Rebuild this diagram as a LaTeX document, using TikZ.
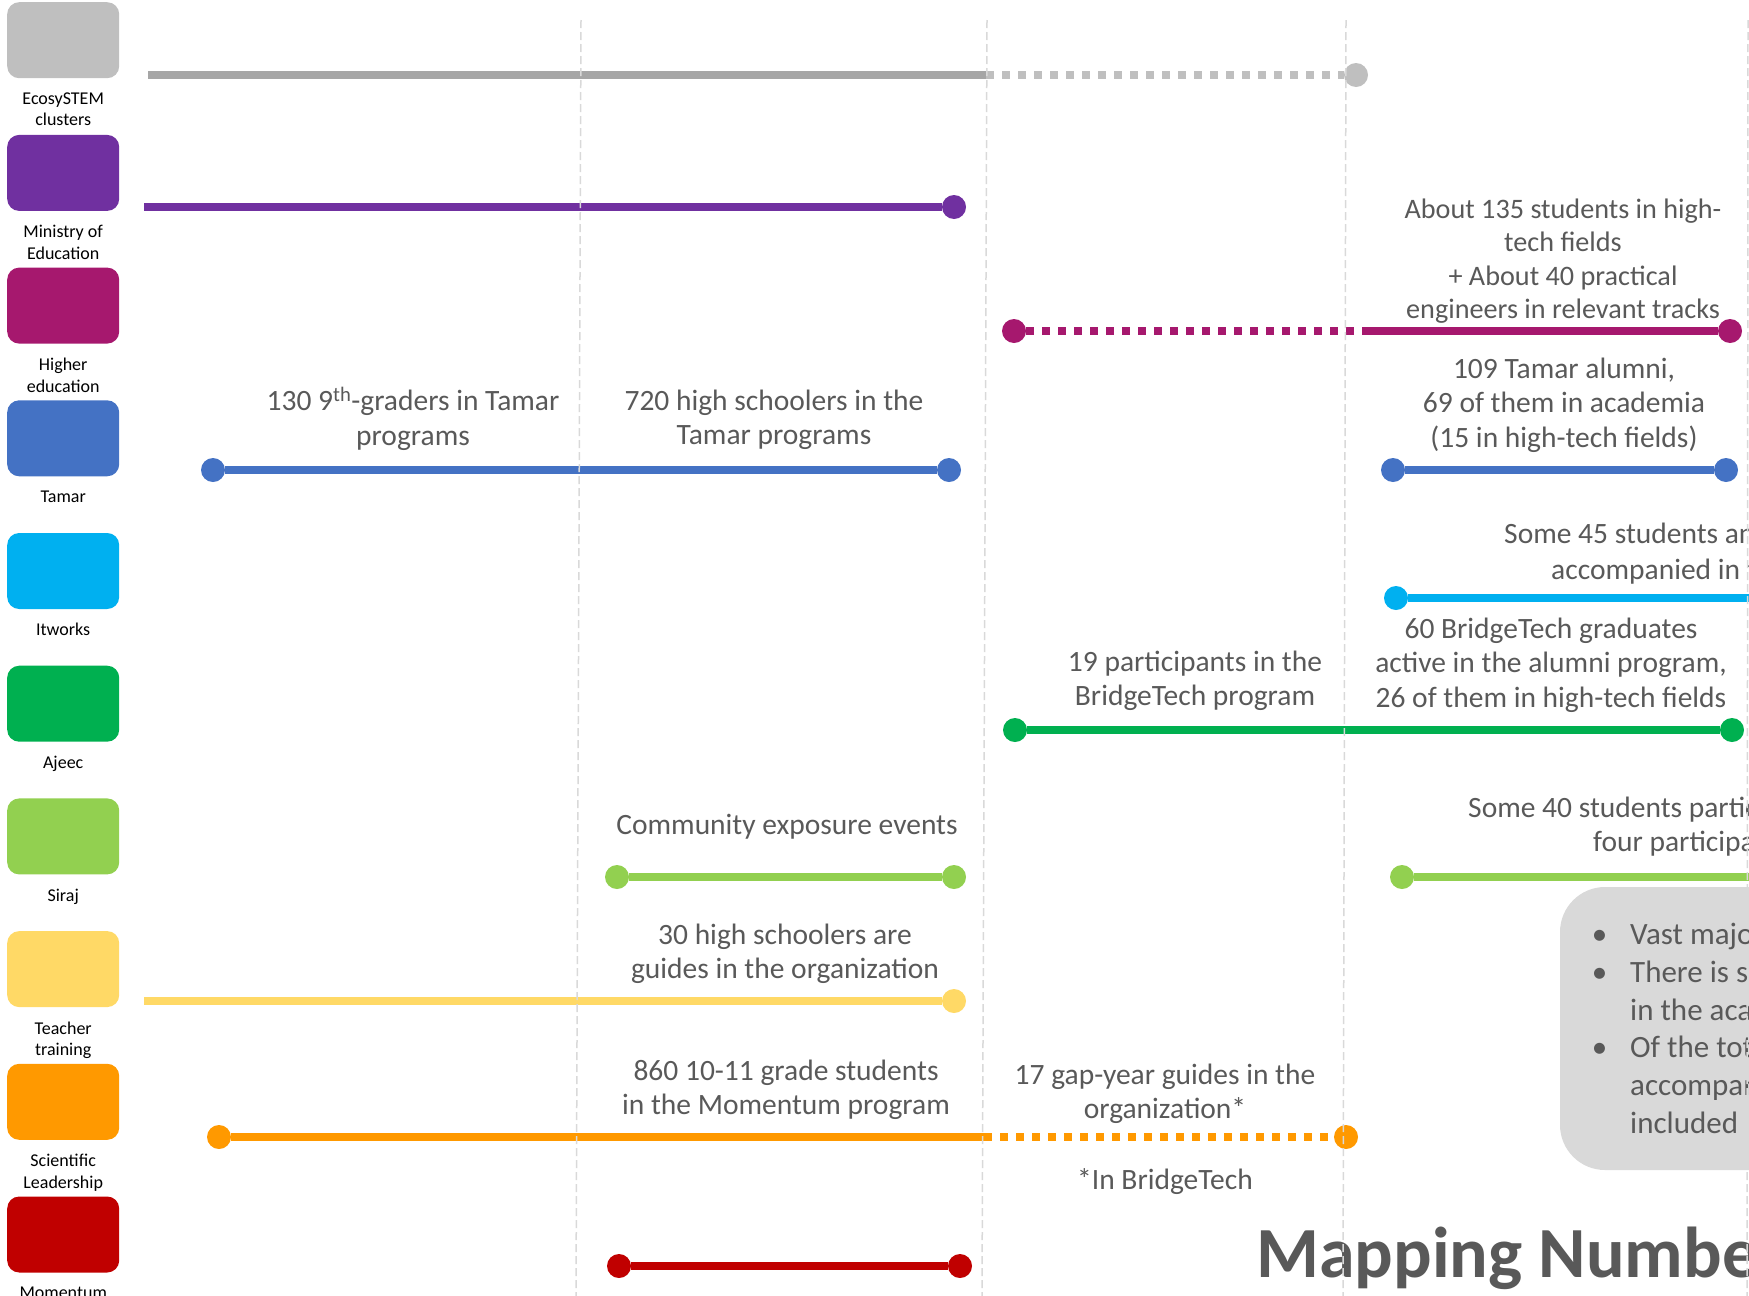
\documentclass[tikz,border=0pt]{standalone}
\usepackage{fontspec}
\setmainfont{Carlito}
\usetikzlibrary{positioning}

\definecolor{cgraydk}{HTML}{A6A6A6}
\definecolor{cgraylt}{HTML}{BFBFBF}
\definecolor{cpurple}{HTML}{7030A0}
\definecolor{cmagenta}{HTML}{A6186E}
\definecolor{cblue}{HTML}{4472C4}
\definecolor{ccyan}{HTML}{00B0F0}
\definecolor{cgreen}{HTML}{00B050}
\definecolor{clime}{HTML}{92D050}
\definecolor{cyellow}{HTML}{FFD966}
\definecolor{corange}{HTML}{FF9900}
\definecolor{cred}{HTML}{C00000}
\definecolor{cpanel}{HTML}{D9D9D9}
\definecolor{ctext}{HTML}{595959}

\begin{document}
\begin{tikzpicture}[x=1pt,y=-1pt,
    legbox/.style={rounded corners=12pt,minimum width=112pt,minimum height=76pt,inner sep=0pt,anchor=north west},
    leglbl/.style={align=center,inner sep=0pt,font=\fontsize{18}{21.5}\selectfont},
    endpt/.style={circle,inner sep=0pt,minimum size=24pt},
    bar/.style={line width=8pt},
    dotbar/.style={line width=8pt,dash pattern=on 8pt off 8pt},
    note/.style={align=center,inner sep=0pt,text=ctext,font=\fontsize{29.5}{34.5}\selectfont},
    vline/.style={cpanel,line width=1.5pt,dash pattern=on 8pt off 4pt}]
    \useasboundingbox (0,0) rectangle (1749,1296);

    \foreach \col/\txt [count=\i from 0] in {cgraylt/{EcosySTEM\\clusters},cpurple/{Ministry of\\Education},
        cmagenta/{Higher\\education},cblue/Tamar,ccyan/Itworks,cgreen/Ajeec,clime/Siraj,
        cyellow/{Teacher\\training},corange/{Scientific\\Leadership},cred/Momentum}{
        \node[legbox,fill=\col] (leg\i) at (7,{2+132.7*\i}) {};
        \node[leglbl,below=14pt of leg\i] (legtxt\i) {\txt};
    }

    \coordinate (g1) at (148,75);
    \coordinate (g2) at (986,75);
    \node[endpt,fill=cgraylt] (g3) at (1356,75) {};
    \draw[bar,cgraydk] (g1) -- (g2);
    \draw[dotbar,cgraylt] (g2) -- (g3);

    \coordinate (p1) at (144,207);
    \node[endpt,fill=cpurple] (p2) at (954,207) {};
    \draw[bar,cpurple] (p1) -- (p2);

    \node[endpt,fill=cmagenta] (m1) at (1014,331) {};
    \coordinate (m2) at (1366,331);
    \node[endpt,fill=cmagenta] (m3) at (1730,331) {};
    \draw[dotbar,cmagenta] (m1) -- (m2);
    \draw[bar,cmagenta] (m2) -- (m3);
    \node[note,font=\fontsize{28.2}{33.5}\selectfont] (tStud135) at (1563,261) {About 135 students in high-\\tech fields\\+ About 40 practical\\engineers in relevant tracks};

    \node[endpt,fill=cblue] (b1) at (213,470) {};
    \node[endpt,fill=cblue] (b2) at (949,470) {};
    \node[endpt,fill=cblue] (b3) at (1393,470) {};
    \node[endpt,fill=cblue] (b4) at (1726,470) {};
    \draw[bar,cblue] (b1) -- (b2);
    \draw[bar,cblue] (b3) -- (b4);
    \node[note] (tGrade9) at (413,419) {130 9\textsuperscript{th}-graders in Tamar\\programs};
    \node[note] (tHigh720) at (774,420) {720 high schoolers in the\\Tamar programs};
    \node[note] (tAlum109) at (1564,405) {109 Tamar alumni,\\69 of them in academia\\(15 in high-tech fields)};

    \node[endpt,fill=ccyan] (c1) at (1396,598) {};
    \coordinate (c2) at (1760,598);
    \draw[bar,ccyan] (c1) -- (c2);
    \node[note,anchor=base west] (tSome45a) at (1504,543) {Some 45 students an};
    \node[note,anchor=base west] (tSome45b) at (1551,579) {accompanied in t};

    \node[endpt,fill=cgreen] (a1) at (1015,730) {};
    \node[endpt,fill=cgreen] (a2) at (1732,730) {};
    \draw[bar,cgreen] (a1) -- (a2);
    \node[note] (tPart19) at (1195,681) {19 participants in the\\BridgeTech program};
    \node[note] (tGrad60) at (1551,665) {60 BridgeTech graduates\\active in the alumni program,\\26 of them in high-tech fields};

    \node[endpt,fill=clime] (s1) at (617,877) {};
    \node[endpt,fill=clime] (s2) at (954,877) {};
    \node[endpt,fill=clime] (s3) at (1402,877) {};
    \coordinate (s4) at (1760,877);
    \draw[bar,clime] (s1) -- (s2);
    \draw[bar,clime] (s3) -- (s4);
    \node[note] (tCommunity) at (787,827) {Community exposure events};
    \node[note,anchor=base west] (tSome40a) at (1468,817) {Some 40 students partic};
    \node[note,anchor=base west] (tSome40b) at (1593,851) {four participa};

    \coordinate (y1) at (144,1001);
    \node[endpt,fill=cyellow] (y2) at (954,1001) {};
    \draw[bar,cyellow] (y1) -- (y2);
    \node[note] (tGuides30) at (785,954) {30 high schoolers are\\guides in the organization};

    \node[endpt,fill=corange] (o1) at (219,1137) {};
    \coordinate (o2) at (984,1137);
    \node[endpt,fill=corange] (o3) at (1346,1137) {};
    \draw[bar,corange] (o1) -- (o2);
    \draw[dotbar,corange] (o2) -- (o3);
    \node[note] (tMom860) at (786,1090) {860 10-11 grade students\\in the Momentum program};
    \node[note] (tGap17) at (1165,1094) {17 gap-year guides in the\\organization*};
    \node[note] (tBridge) at (1165,1182) {*In BridgeTech};

    \node[endpt,fill=cred] (r1) at (619,1266) {};
    \node[endpt,fill=cred] (r2) at (960,1266) {};
    \draw[bar,cred] (r1) -- (r2);

    \fill[cpanel,rounded corners=45pt] (1560,887) rectangle (1880,1170);
    \node[align=left,inner sep=0pt,anchor=north west,text=ctext,font=\fontsize{31}{37.8}\selectfont] (tPanel) at (1630,923)
        {\llap{\textbullet\hspace{23pt}}Vast majo\\\llap{\textbullet\hspace{23pt}}There is s\\in the aca\\
         \llap{\textbullet\hspace{23pt}}Of the tot\\accompan\\included};

    \node[anchor=base west,inner sep=0pt,text=ctext,font=\fontsize{72}{80}\selectfont\bfseries] (tTitle) at (1256,1277) {Mapping Numbe};

    \foreach \xa/\xb in {581/576,987/982,1346/1343,1748/1747}
        \draw[vline] (\xa,20) -- (\xb,1296);
\end{tikzpicture}
\end{document}
